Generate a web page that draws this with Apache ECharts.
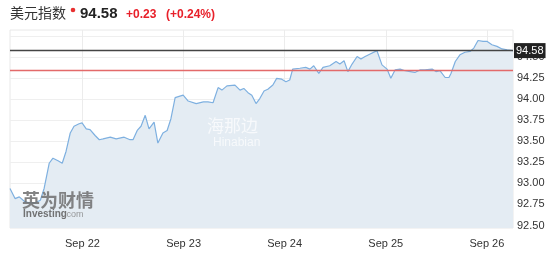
<!DOCTYPE html>
<html><head><meta charset="utf-8">
<script src="https://cdn.jsdelivr.net/npm/echarts@6/dist/echarts.min.js"></script>
<style>html,body{margin:0;padding:0;background:#fff}#c{width:558px;height:268px}</style>
</head><body><div id="c"></div>
<script>
// hours since Sep 21 00:00
const hours = [6.8,8.0,9.0,10.4,11.6,12.8,14.0,14.9,16.1,17.0,18.2,19.2,20.1,21.1,22.0,23.2,23.9,24.9,25.8,27.0,28.0,28.9,30.6,32.0,33.9,35.3,36.0,37.0,37.9,38.9,39.8,41.0,41.9,43.1,44.1,45.0,46.0,47.9,49.1,51.0,52.7,53.8,55.0,56.2,57.1,58.3,60.2,61.4,62.3,63.3,64.2,65.2,66.1,67.1,68.0,69.2,70.1,71.3,72.3,73.2,73.9,75.6,77.0,78.0,78.9,80.1,81.1,82.7,84.2,85.1,86.1,87.0,88.0,89.2,90.1,91.1,92.3,93.9,95.1,96.3,97.2,98.2,99.4,100.6,101.8,102.9,104.1,105.3,107.0,107.9,108.9,110.1,111.0,111.5,112.5,113.6,114.8,116.0,116.9,117.9,119.1,120.0,121.2,122.4,123.6,124.8,126.2];
const values = [92.94,92.82,92.84,92.78,92.77,92.77,92.80,92.94,93.24,93.30,93.27,93.24,93.38,93.60,93.68,93.71,93.72,93.65,93.64,93.57,93.52,93.53,93.55,93.53,93.55,93.52,93.52,93.63,93.68,93.81,93.65,93.73,93.48,93.60,93.63,93.77,94.02,94.05,93.98,93.95,93.97,93.97,93.96,94.14,94.11,94.16,94.17,94.11,94.13,94.08,94.05,93.95,94.01,94.10,94.12,94.17,94.25,94.24,94.21,94.23,94.36,94.37,94.38,94.36,94.40,94.31,94.38,94.40,94.45,94.42,94.46,94.33,94.42,94.51,94.48,94.51,94.54,94.58,94.41,94.36,94.25,94.35,94.36,94.34,94.33,94.32,94.35,94.35,94.36,94.33,94.34,94.26,94.26,94.31,94.45,94.53,94.56,94.57,94.61,94.70,94.69,94.69,94.65,94.63,94.60,94.59,94.58];
const dayTicks = [24,48,72,96,120];
const dayLabels = ['Sep 22','Sep 23','Sep 24','Sep 25','Sep 26'];
const yTicks = [92.5,92.75,93,93.25,93.5,93.75,94,94.25,94.5,94.75];
const lastPrice = 94.58;
const prevClose = 94.35;
const titleName = '美元指数';
const changeText = '+0.23';
const pctText = '(+0.24%)';

const chart = echarts.init(document.getElementById('c'));
chart.setOption({
  animation:false,
  grid:{left:10,right:45,top:30,bottom:40,show:true,borderColor:'#e8e8e8',borderWidth:1},
  graphic:[
    {type:'text',left:10,top:6,style:{text:titleName,font:'14px "Noto Sans CJK SC", sans-serif',fill:'#333'}},
    {type:'circle',shape:{cx:73,cy:10,r:2.3},style:{fill:'#e83030'}},
    {type:'text',left:80,top:6,style:{text:String(lastPrice.toFixed(2)),font:'bold 15px "Liberation Sans", Arial, sans-serif',fill:'#222'}},
    {type:'text',left:126,top:9,style:{text:changeText,font:'bold 12px "Liberation Sans", Arial, sans-serif',fill:'#e8202a'}},
    {type:'text',left:166,top:9,style:{text:pctText,font:'bold 12px "Liberation Sans", Arial, sans-serif',fill:'#e8202a'}},
    {type:'text',left:22,top:191,z:10,style:{text:'英为财情',font:'bold 18px "Noto Sans CJK SC", sans-serif',fill:'rgba(110,110,110,0.85)'}},
    {type:'text',left:23,top:209,z:10,style:{text:'Investing',font:'bold 10px "Liberation Sans", Arial, sans-serif',fill:'rgba(100,100,100,0.9)'}},
    {type:'text',left:64,top:210,z:10,style:{text:'.com',font:'9px "Liberation Sans", Arial, sans-serif',fill:'rgba(130,130,130,0.8)'}},
    {type:'text',left:207,top:117,z:10,style:{text:'海那边',font:'17px "Noto Sans CJK SC", sans-serif',fill:'rgba(255,255,255,0.7)'}},
    {type:'text',left:213,top:137,z:10,style:{text:'Hinabian',font:'12px "Liberation Sans", Arial, sans-serif',fill:'rgba(255,255,255,0.7)'}}
  ],
  xAxis:{
    type:'value',min:hours[0],max:hours[hours.length-1],
    axisLine:{show:false},axisTick:{show:false,customValues:dayTicks},
    splitLine:{show:true,lineStyle:{color:'#ececec',width:1}},
    axisLabel:{customValues:dayTicks,formatter:v=>dayLabels[dayTicks.indexOf(v)],color:'#333',fontSize:11,fontFamily:'"Liberation Sans", Arial, sans-serif',margin:10}
  },
  yAxis:{
    type:'value',position:'right',min:92.47,max:94.825,
    axisLine:{show:false},axisTick:{show:false,customValues:yTicks},
    splitLine:{show:true,lineStyle:{color:'#efefef',width:1}},
    axisLabel:{customValues:yTicks.filter(v=>v<94.7),formatter:v=>v.toFixed(2),color:'#333',fontSize:11,fontFamily:'"Liberation Sans", Arial, sans-serif',margin:4}
  },
  series:[{
    type:'line',data:hours.map((h,i)=>[h,values[i]]),showSymbol:false,
    lineStyle:{color:'#7eb0e0',width:1.2},
    areaStyle:{color:'#e4ecf3',origin:'start',opacity:1},
    markLine:{silent:true,symbol:'none',label:{show:false},data:[
      {yAxis:prevClose,lineStyle:{color:'#e36a6a',width:1.3,type:'solid'}},
      {yAxis:lastPrice,lineStyle:{color:'#444',width:1.3,type:'solid'},
        label:{show:true,position:'end',formatter:lastPrice.toFixed(2),color:'#fff',backgroundColor:'#222',padding:[2,2,2,2],fontSize:11,fontFamily:'"Liberation Sans", Arial, sans-serif',distance:1}}
    ]}
  }]
});
</script></body></html>
